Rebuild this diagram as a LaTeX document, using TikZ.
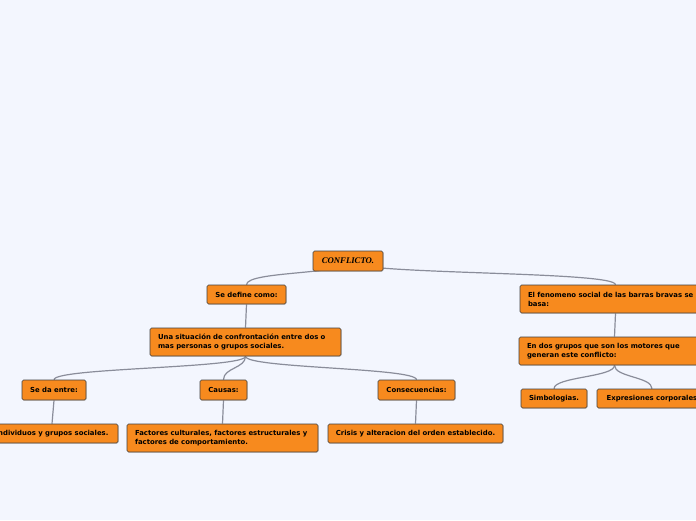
\documentclass[tikz,border=0pt]{standalone}
\usepackage{fontspec}
\setmainfont{DejaVu Sans}
\newfontfamily\titlefont{Liberation Serif}
\usetikzlibrary{shadows}
\definecolor{bgblue}{HTML}{F3F6FE}
\definecolor{boxorange}{HTML}{F78A1E}
\definecolor{linkgray}{HTML}{8A8D9A}
\pgfdeclarelayer{bg}
\pgfdeclarelayer{edges}
\pgfsetlayers{bg,edges,main}

\begin{document}
\begin{tikzpicture}[x=1pt, y=-1pt,
    box/.style={draw=black!75, fill=boxorange, rounded corners=1.5pt, line width=0.6pt, inner sep=0pt, minimum height=19pt, font=\fontsize{6.9}{9}\selectfont\bfseries, drop shadow={shadow xshift=0.7pt, shadow yshift=-0.7pt, opacity=0.35}},
    wide/.style={box, text width=175pt, inner xsep=8pt, minimum height=28pt, align=left},
    link/.style={draw=linkgray, line width=1.2pt}
]
\useasboundingbox (0,0) rectangle (696,520);
\begin{pgfonlayer}{bg}
\fill[bgblue] (0,0) rectangle (696,520);
\end{pgfonlayer}

% Tronco
\node[box, minimum width=70pt, minimum height=20pt, font=\fontsize{8.7}{10}\selectfont\titlefont\bfseries\itshape] (root) at (348,261) {CONFLICTO.};

% Rama izquierda
\node[box, minimum width=79pt] (defn) at (246.5,294.5) {Se define como:};
\node[wide] (sit) at (245.5,342) {Una situación de confrontación entre dos o\\mas personas o grupos sociales.};
\node[box, minimum width=64pt, minimum height=20pt] (entre) at (54,390) {Se da entre:};
\node[box, minimum width=47pt, minimum height=20pt] (causas) at (223.5,390) {Causas:};
\node[box, minimum width=77pt, minimum height=20pt] (consec) at (416.5,390) {Consecuencias:};
\node[box, minimum width=132pt] (indiv) at (52,433.5) {Individuos y grupos sociales.};
\node[wide] (factores) at (222.5,438) {Factores culturales, factores estructurales y\\factores de comportamiento.};
\node[box, minimum width=175pt] (crisis) at (415.5,433.5) {Crisis y alteracion del orden establecido.};

% Rama derecha
\node[wide] (fenom) at (615.5,299) {El fenomeno social de las barras bravas se\\basa:};
\node[wide] (grupos) at (614.5,351) {En dos grupos que son los motores que\\generan este conflicto:};
\node[box, minimum width=66pt] (simb) at (554,398.5) {Simbologias.};
\node[box, minimum width=110pt] (expr) at (652,398.5) {Expresiones corporales};

\begin{pgfonlayer}{edges}
\draw[link] (root.center) .. controls +(0,14) and +(0,-14) .. (defn.north);
\draw[link] (root.center) .. controls +(0,14) and +(0,-14) .. (fenom.north);
\draw[link] (defn.south) -- (sit.north);
\draw[link] (sit.south) .. controls +(0,12) and +(0,-12) .. (entre.north);
\draw[link] (sit.south) .. controls +(0,12) and +(0,-12) .. (causas.north);
\draw[link] (sit.south) .. controls +(0,12) and +(0,-12) .. (consec.north);
\draw[link] (entre.south) -- (indiv.north);
\draw[link] (causas.south) -- (factores.north);
\draw[link] (consec.south) -- (crisis.north);
\draw[link] (fenom.south) -- (grupos.north);
\draw[link] (grupos.south) .. controls +(0,12) and +(0,-12) .. (simb.north);
\draw[link] (grupos.south) .. controls +(0,12) and +(0,-12) .. (expr.north);
\end{pgfonlayer}
\end{tikzpicture}
\end{document}
